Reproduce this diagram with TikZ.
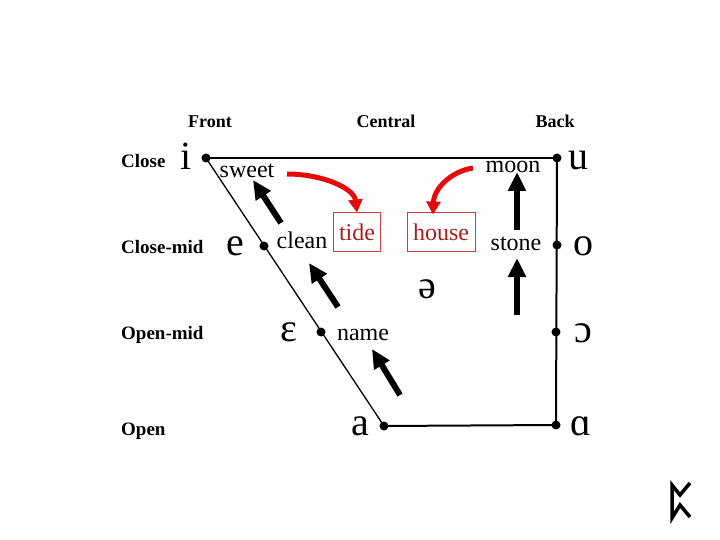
\documentclass[tikz,border=0pt]{standalone}
\usepackage{fontspec}
\setmainfont{Liberation Serif}
\usetikzlibrary{arrows.meta}
\definecolor{redarr}{RGB}{230,10,10}
\definecolor{tidered}{RGB}{170,30,30}
\definecolor{boxred}{RGB}{205,60,60}
\tikzset{
  vdot/.style={circle,fill=black,inner sep=0pt,minimum size=9pt},
  hdr/.style={font=\fontsize{18}{18}\selectfont\bfseries,anchor=base,inner sep=0pt},
  rowlab/.style={font=\fontsize{19}{19}\selectfont\bfseries,anchor=base west,inner sep=0pt},
  ipa/.style={font=\fontsize{40}{40}\selectfont,anchor=base,inner sep=0pt},
  word/.style={font=\fontsize{24}{24}\selectfont,anchor=base,inner sep=0pt},
  redbox/.style={draw=boxred,line width=1pt,text=tidered,font=\fontsize{24}{24}\selectfont,minimum height=38pt,inner xsep=6pt,text depth=0pt},
  bigarrow/.style={line width=6pt,-{Triangle[width=17pt,length=19pt]}},
  redarrow/.style={draw=redarr,line width=5pt,-{Triangle[width=14pt,length=13pt]}}
}
\begin{document}
\begin{tikzpicture}[x=1pt,y=-1pt]
\useasboundingbox (0,0) rectangle (720,540);
% vowel positions
\coordinate (pi) at (206,158);
\coordinate (pu) at (557,158);
\coordinate (pe) at (264,246);
\coordinate (peps) at (321,332);
\coordinate (pa) at (384,426);
\coordinate (palpha) at (556,425);
\coordinate (popen) at (556,332);
\coordinate (po) at (557,245);
% chart lines
\draw[line width=2pt] (pi) -- (pu);
\draw[line width=1.3pt] (pi) -- (pa);
\draw[line width=2pt] (pu) -- (palpha);
\draw[line width=2pt] (pa) -- (palpha);
\foreach \p in {pi,pu,pe,peps,pa,palpha,popen,po} \node[vdot] (d\p) at (\p) {};
% headers
\node[hdr] (front) at (210,128) {Front};
\node[hdr] (central) at (386,128) {Central};
\node[hdr] (back) at (555,128) {Back};
\node[rowlab] (close) at (121,168) {Close};
\node[rowlab] (closemid) at (121,253) {Close-mid};
\node[rowlab] (openmid) at (121,339) {Open-mid};
\node[rowlab] (open) at (121,435) {Open};
% IPA symbols
\node[ipa] (si) at (186,170) {i};
\node[ipa] (se) at (235,255) {e};
\node[ipa] (seps) at (289,341) {ɛ};
\node[ipa] (sa) at (360,435) {a};
\node[ipa] (su) at (578,170) {u};
\node[ipa] (so) at (583,255) {o};
\node[ipa] (sopen) at (583,342) {ɔ};
\node[ipa] (salpha) at (581,435) {ɑ};
\node[font=\fontsize{40}{40}\selectfont,anchor=base,inner sep=0pt] (schwa) at (427,298) {ə};
% words
\node[word] (sweet) at (247,178) {sweet};
\node[word] (clean) at (302,248) {clean};
\node[word] (name) at (363,340) {name};
\node[word] (moon) at (513,173) {moon};
\node[word] (stone) at (516,250) {stone};
\node[redbox] (tide) at (357,232) {tide};
\node[redbox] (house) at (441,232) {house};
% black arrows
\coordinate (a1s) at (281,223); \coordinate (a1e) at (253,180);
\coordinate (a2s) at (338,307); \coordinate (a2e) at (309,263);
\coordinate (a3s) at (400,395); \coordinate (a3e) at (372,349);
\coordinate (a4s) at (517,230); \coordinate (a4e) at (517,172);
\coordinate (a5s) at (517,315); \coordinate (a5e) at (517,258);
\draw[bigarrow] (a1s) -- (a1e);
\draw[bigarrow] (a2s) -- (a2e);
\draw[bigarrow] (a3s) -- (a3e);
\draw[bigarrow] (a4s) -- (a4e);
\draw[bigarrow] (a5s) -- (a5e);
% red arrows
\coordinate (r1s) at (287,174);
\coordinate (r2s) at (473,168);
\draw[redarrow] (r1s) .. controls (322,174) and (354,188) .. (tide.north);
\draw[redarrow] (r2s) .. controls (452,171) and (434,188) .. ([xshift=-8pt,yshift=-2pt]house.north);
% rune
\draw[line width=3.5pt,line join=miter,line cap=butt] (690,483) -- (680,495) -- (672,485) -- (672,518) -- (680,505) -- (690,517);
\end{tikzpicture}
\end{document}
